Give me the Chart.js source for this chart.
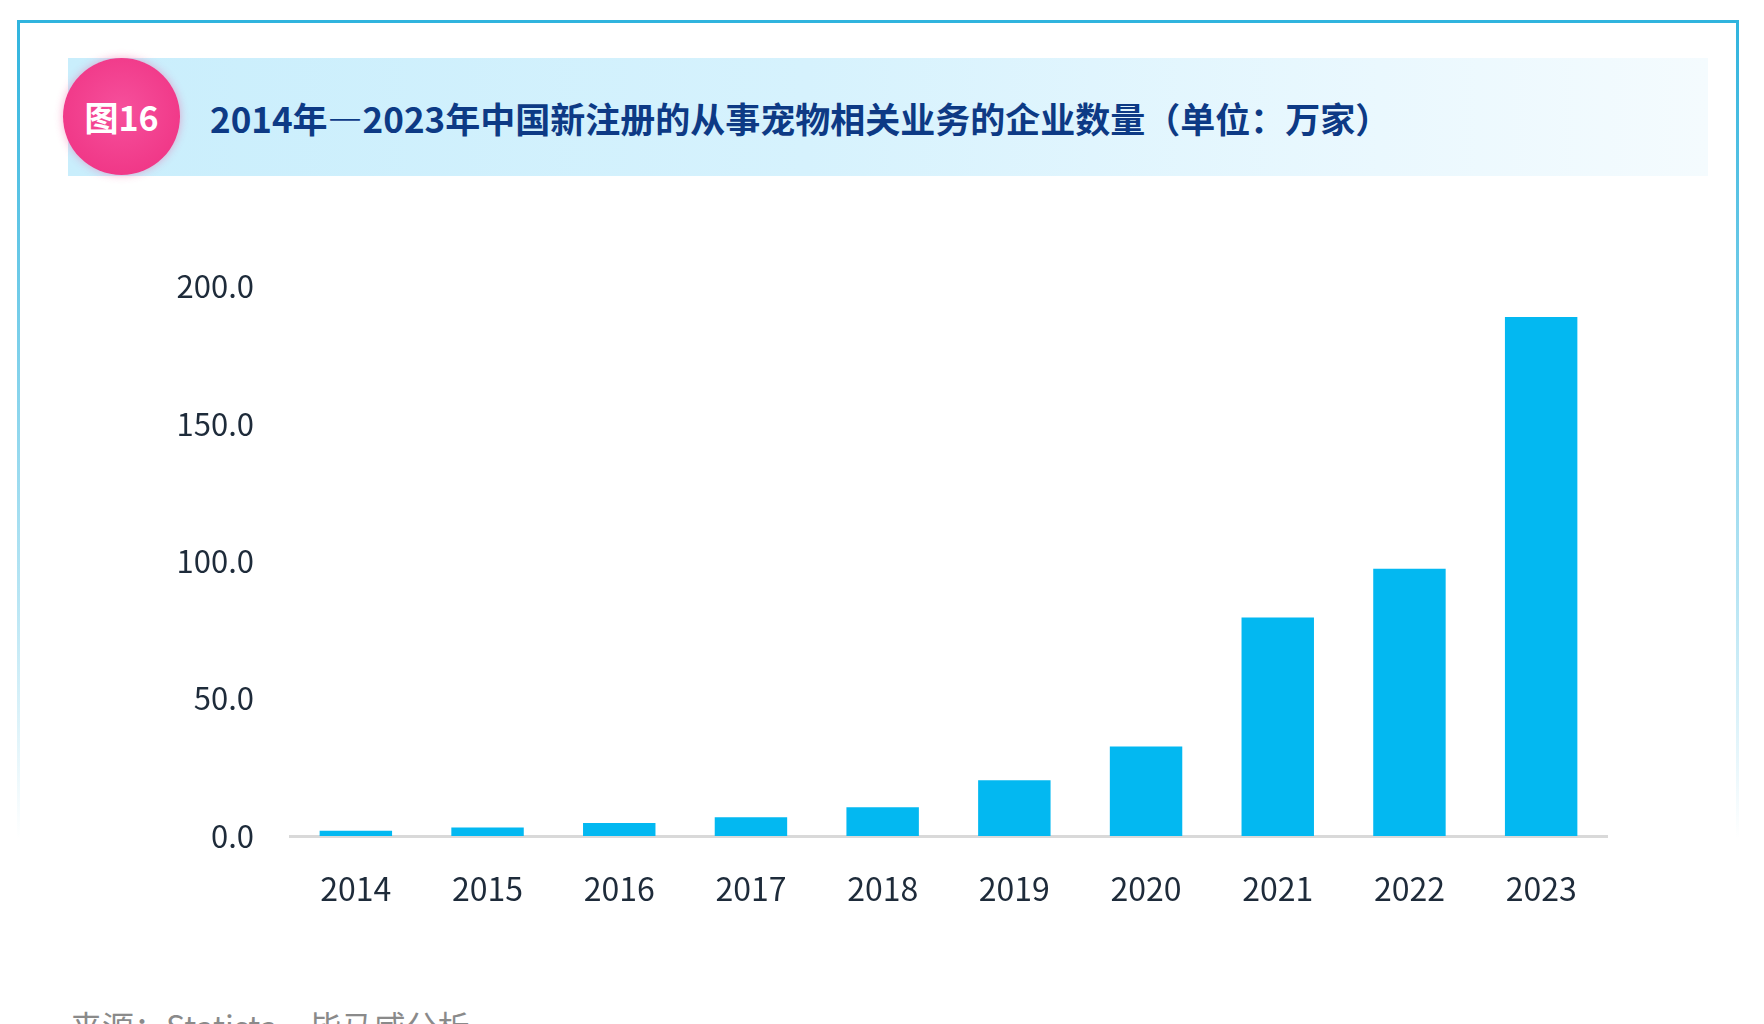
<!DOCTYPE html>
<html lang="zh-CN">
<head>
  <meta charset="UTF-8" />
  <title>宠物相关企业数量</title>
  <script src="https://cdn.jsdelivr.net/npm/chart.js"></script>
  <style>
    body {
      margin: 0;
      width: 1764px;
      height: 1024px;
      overflow: hidden;
      background: #fff;
      font-family: "Noto Sans CJK SC", "Noto Sans", sans-serif;
      position: relative;
    }
    .frame {
      position: absolute;
      left: 17px;
      top: 20px;
      width: 1716px;
      height: 815px;
      border-style: solid;
      border-width: 3px 3px 0 3px;
      border-image: linear-gradient(to bottom, #30b4de, rgba(48,180,222,0.35) 70%, rgba(48,180,222,0)) 1;
    }
    .band {
      position: absolute;
      left: 68px;
      top: 58px;
      width: 1640px;
      height: 118px;
      background: linear-gradient(to right, #c9eefc 0%, #d6f2fd 45%, #eaf8fe 80%, #f4fbfe 100%);
    }
    .badge {
      position: absolute;
      left: 63px;
      top: 58px;
      width: 117px;
      height: 117px;
      border-radius: 50%;
      background: radial-gradient(circle at 50% 45%, #f6509c, #ee2f80);
      box-shadow: 0 0 8px rgba(240, 80, 150, 0.45);
      color: #fff;
      font-weight: 700;
      font-size: 34px;
      line-height: 117px;
      text-align: center;
    }
    .title {
      position: absolute;
      left: 210px;
      top: 96px;
      font-size: 35px;
      font-weight: 700;
      color: #0d3a85;
      line-height: 44px;
      white-space: nowrap;
    }
    #chart {
      position: absolute;
      left: 0;
      top: 232px;
    }
    .source {
      position: absolute;
      left: 70px;
      top: 1009px;
      font-size: 32px;
      line-height: 32px;
      color: #8a8a8a;
      white-space: nowrap;
    }
  </style>
</head>
<body>
  <div class="frame"></div>
  <div class="band"></div>
  <div class="badge">图16</div>
  <div class="title">2014年—2023年中国新注册的从事宠物相关业务的企业数量（单位：万家）</div>
  <canvas id="chart" width="1764" height="708"></canvas>
  <div class="source">来源：Statista，毕马威分析</div>

  <script>
    // 年份与企业数量（万家）
    const years = ['2014', '2015', '2016', '2017', '2018', '2019', '2020', '2021', '2022', '2023'];
    const companies = [1.9, 3.1, 4.7, 6.8, 10.5, 20.3, 32.6, 79.5, 97.3, 188.9];
    const yTicks = [0, 50, 100, 150, 200];

    const fontFamily = '"Noto Sans CJK SC", "Noto Sans", sans-serif';

    new Chart(document.getElementById('chart'), {
      type: 'bar',
      data: {
        labels: years,
        datasets: [{
          data: companies,
          backgroundColor: '#03b8f1',
          borderWidth: 0,
          categoryPercentage: 1,
          barPercentage: 0.55
        }]
      },
      options: {
        responsive: false,
        animation: false,
        layout: { padding: { left: 0, right: 157, top: 38, bottom: 0 } },
        plugins: {
          legend: { display: false },
          tooltip: { enabled: false }
        },
        scales: {
          x: {
            grid: { display: false, drawTicks: false },
            border: { display: true, color: '#d9d9d9', width: 3 },
            ticks: { color: '#1e2b3a', font: { family: fontFamily, size: 32 }, padding: 34 },
            afterFit: s => { s.height = 104; }
          },
          y: {
            min: 0,
            max: 200,
            grid: { display: false, drawTicks: false },
            border: { display: false },
            afterBuildTicks: s => { s.ticks = yTicks.map(v => ({ value: v })); },
            ticks: {
              color: '#1e2b3a',
              font: { family: fontFamily, size: 31 },
              padding: 36,
              callback: v => Number(v).toFixed(1)
            },
            afterFit: s => { s.width = 290; }
          }
        }
      }
    });
  </script>
</body>
</html>
